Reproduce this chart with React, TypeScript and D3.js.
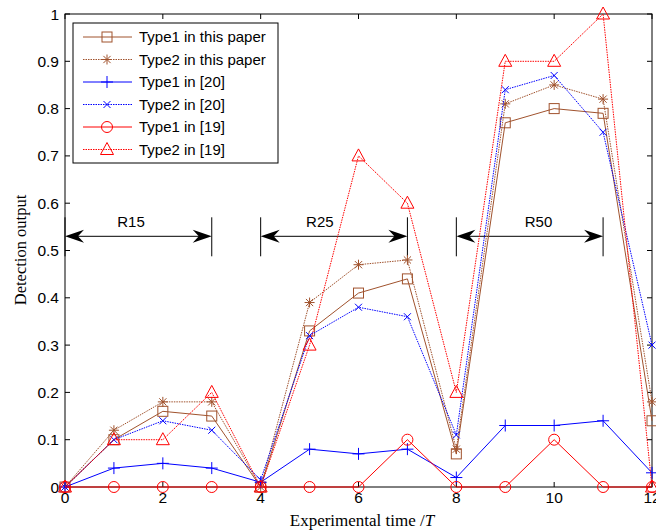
import React from "react";
import * as d3 from "d3";

const times = [0, 1, 2, 3, 4, 5, 6, 7, 8, 9, 10, 11, 12];
const type1Paper = [0, 0.10, 0.16, 0.15, 0, 0.33, 0.41, 0.44, 0.07, 0.77, 0.80, 0.79, 0.14];
const type2Paper = [0, 0.12, 0.18, 0.18, 0, 0.39, 0.47, 0.48, 0.08, 0.81, 0.85, 0.82, 0.18];
const type1Ref20 = [0, 0.04, 0.05, 0.04, 0.01, 0.08, 0.07, 0.08, 0.02, 0.13, 0.13, 0.14, 0.03];
const type2Ref20 = [0, 0.10, 0.14, 0.12, 0.015, 0.32, 0.38, 0.36, 0.11, 0.84, 0.87, 0.75, 0.30];
const type1Ref19 = [0, 0, 0, 0, 0, 0, 0, 0.10, 0, 0, 0.10, 0, 0];
const type2Ref19 = [0, 0.10, 0.10, 0.20, 0, 0.30, 0.70, 0.60, 0.20, 0.90, 0.90, 1.00, 0];

const xTicks = [0, 2, 4, 6, 8, 10, 12];
const yTicks = [0, 0.1, 0.2, 0.3, 0.4, 0.5, 0.6, 0.7, 0.8, 0.9, 1];

const ranges = [
  { label: "R15", from: 0, to: 3, textAt: 1.35 },
  { label: "R25", from: 4, to: 7, textAt: 5.21 },
  { label: "R50", from: 8, to: 11, textAt: 9.68 },
];
const rangeLevel = 0.53;

const BROWN = "#A0522D";
const BLUE = "#0000FF";
const RED = "#FF0000";

type Series = { name: string; values: number[]; color: string; dash: string | undefined; marker: string };
const series: Series[] = [
  { name: "Type1 in this paper", values: type1Paper, color: BROWN, dash: undefined, marker: "square" },
  { name: "Type2 in this paper", values: type2Paper, color: BROWN, dash: "1.5,1", marker: "star" },
  { name: "Type1 in [20]", values: type1Ref20, color: BLUE, dash: undefined, marker: "plus" },
  { name: "Type2 in [20]", values: type2Ref20, color: BLUE, dash: "1.5,1", marker: "x" },
  { name: "Type1 in [19]", values: type1Ref19, color: RED, dash: undefined, marker: "circle" },
  { name: "Type2 in [19]", values: type2Ref19, color: RED, dash: "1.5,1", marker: "triangle" },
];

function Marker({ kind, x, y, color }: { kind: string; x: number; y: number; color: string }) {
  const p = { stroke: color, fill: "none", strokeWidth: 1 };
  switch (kind) {
    case "square":
      return <rect x={x - 5} y={y - 5} width={10} height={10} {...p} />;
    case "star": {
      const s = 5, d = 3.6;
      return (
        <path
          d={`M${x - s},${y}H${x + s}M${x},${y - s}V${y + s}M${x - d},${y - d}L${x + d},${y + d}M${x - d},${y + d}L${x + d},${y - d}`}
          {...p}
        />
      );
    }
    case "plus": {
      const s = 6;
      return <path d={`M${x - s},${y}H${x + s}M${x},${y - s}V${y + s}`} {...p} />;
    }
    case "x": {
      const d = 3.5;
      return <path d={`M${x - d},${y - d}L${x + d},${y + d}M${x - d},${y + d}L${x + d},${y - d}`} {...p} />;
    }
    case "circle":
      return <circle cx={x} cy={y} r={5.5} {...p} />;
    case "triangle":
      return <path d={`M${x},${y - 7}L${x + 6.5},${y + 5}L${x - 6.5},${y + 5}Z`} {...p} />;
  }
  return null;
}

export default function App() {
  const W = 656, H = 530;
  const x = d3.scaleLinear().domain([0, 12]).range([65, 652]);
  const y = d3.scaleLinear().domain([0, 1]).range([487, 14]);
  const line = d3
    .line<number>()
    .x((_, i) => x(times[i]))
    .y((v) => y(v));
  const [x0, x1] = x.range();
  const [y0, y1] = y.range();
  const tickLen = 5;
  const sans = "'Liberation Sans', Arial, sans-serif";
  const serif = "'Liberation Serif', 'Times New Roman', serif";

  const arrowHead = (tx: number, ty: number, dir: number) => {
    const L = 19, w = 6.5, n = 13;
    return `M${tx},${ty}L${tx - dir * L},${ty - w}L${tx - dir * n},${ty}L${tx - dir * L},${ty + w}Z`;
  };

  const legendX = 73, legendY = 23, legendW = 205, legendH = 140;

  return (
    <svg width={W} height={H} style={{ position: "absolute", left: 0, top: 0, background: "#fff" }}>
      <rect x={0} y={0} width={W} height={H} fill="#fff" />
      <rect x={x0} y={y1} width={x1 - x0} height={y0 - y1} fill="none" stroke="#000" strokeWidth={1} />
      {xTicks.map((t) => (
        <g key={"xt" + t}>
          <line x1={x(t)} x2={x(t)} y1={y0} y2={y0 - tickLen} stroke="#000" />
          <line x1={x(t)} x2={x(t)} y1={y1} y2={y1 + tickLen} stroke="#000" />
          <text x={x(t)} y={503} fontSize={15.5} fontFamily={sans} textAnchor="middle">
            {t}
          </text>
        </g>
      ))}
      {yTicks.map((t) => (
        <g key={"yt" + t}>
          <line x1={x0} x2={x0 + tickLen} y1={y(t)} y2={y(t)} stroke="#000" />
          <line x1={x1} x2={x1 - tickLen} y1={y(t)} y2={y(t)} stroke="#000" />
          <text x={59} y={y(t) + 5.5} fontSize={15.5} fontFamily={sans} textAnchor="end">
            {t}
          </text>
        </g>
      ))}
      <text x={362} y={526} fontSize={17} fontFamily={serif} textAnchor="middle">
        Experimental time /<tspan fontStyle="italic">T</tspan>
      </text>
      <text
        transform={`translate(26,${250}) rotate(-90)`}
        fontSize={16.5}
        fontFamily={serif}
        textAnchor="middle"
      >
        Detection output
      </text>

      {ranges.map((r) => {
        const ax0 = x(r.from), ax1 = x(r.to), ay = y(rangeLevel);
        return (
          <g key={r.label}>
            <line x1={ax0} x2={ax0} y1={ay - 19} y2={ay + 20} stroke="#000" />
            <line x1={ax1} x2={ax1} y1={ay - 19} y2={ay + 20} stroke="#000" />
            <line x1={ax0 + 10} x2={ax1 - 10} y1={ay} y2={ay} stroke="#000" />
            <path d={arrowHead(ax0, ay, -1)} fill="#000" />
            <path d={arrowHead(ax1, ay, 1)} fill="#000" />
            <text x={x(r.textAt)} y={ay - 9} fontSize={15} fontFamily={sans} textAnchor="middle">
              {r.label}
            </text>
          </g>
        );
      })}

      {series.map((s) => (
        <g key={s.name}>
          <path d={line(s.values) || ""} fill="none" stroke={s.color} strokeWidth={1} strokeDasharray={s.dash} />
          {s.values.map((v, i) => (
            <Marker key={i} kind={s.marker} x={x(times[i])} y={y(v)} color={s.color} />
          ))}
        </g>
      ))}

      <rect x={legendX} y={legendY} width={legendW} height={legendH} fill="#fff" stroke="#000" strokeWidth={1} />
      {series.map((s, i) => {
        const ly = 37 + i * 22.5;
        return (
          <g key={"lg" + s.name}>
            <line x1={83} x2={132} y1={ly} y2={ly} stroke={s.color} strokeWidth={1} strokeDasharray={s.dash} />
            <Marker kind={s.marker} x={107} y={ly} color={s.color} />
            <text x={139} y={ly + 5.3} fontSize={15} fontFamily={sans}>
              {s.name}
            </text>
          </g>
        );
      })}
    </svg>
  );
}
